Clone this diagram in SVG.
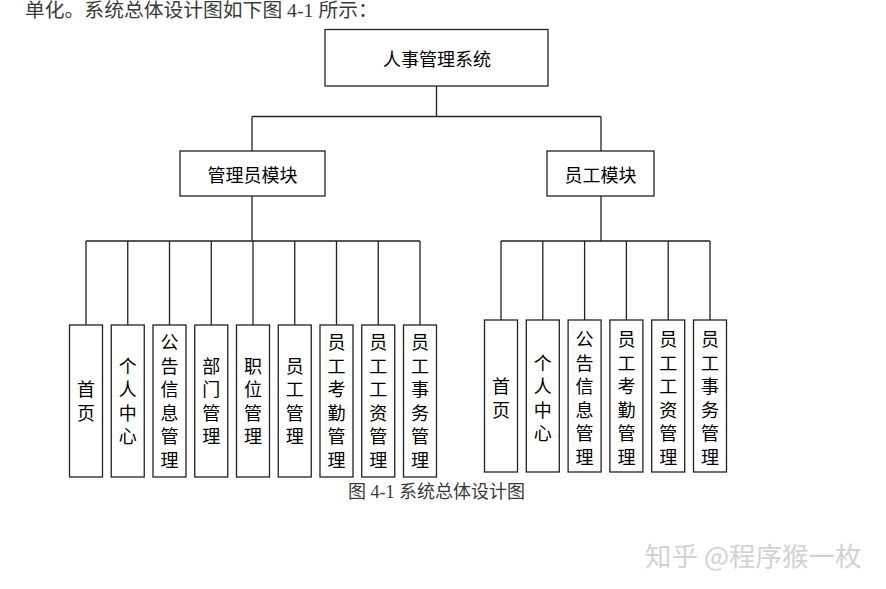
<svg xmlns="http://www.w3.org/2000/svg" width="886" height="589" viewBox="0 0 886 589">
<style>
.box{fill:#fff;stroke:#222;stroke-width:1.3}
.ln{stroke:#222;stroke-width:1.3;fill:none}
.t{font-family:"Noto Sans CJK SC","Noto Sans",sans-serif;font-size:18px;fill:#000;text-anchor:middle;dominant-baseline:central}
.v{font-family:"Noto Sans CJK SC","Noto Sans",sans-serif;font-size:18px;fill:#000;text-anchor:middle;dominant-baseline:central}
.doc{font-family:"Liberation Serif","Noto Sans CJK SC",serif;fill:#3a3a3a;dominant-baseline:central}
</style>
<rect width="886" height="589" fill="#fff"/>
<text class="doc" x="25" y="9.5" font-size="19.8">单化。系统总体设计图如下图 4-1 所示：</text>

<g id="connectors">
<path class="ln" d="M436.5 86V116.5M252 116.5H601M252 116.5V151M601 116.5V151"/>
<path class="ln" d="M252 196V241M86 241H420M86 241V325M127.75 241V325M169.5 241V325M211.25 241V325M253 241V325M294.75 241V325M336.5 241V325M378.25 241V325M420 241V325"/>
<path class="ln" d="M601 196V241M501 241H710M501 241V320M542.8 241V320M584.6 241V320M626.4 241V320M668.2 241V320M710 241V320"/>
</g>

<g id="root"><rect class="box" x="325" y="29.5" width="223" height="56.5"/><text class="t" x="437" y="58">人事管理系统</text></g>
<g id="admin"><rect class="box" x="180" y="151" width="145" height="45"/><text class="t" x="252.5" y="173.5">管理员模块</text></g>
<g id="staff"><rect class="box" x="547" y="151" width="107" height="45"/><text class="t" x="600.5" y="173.5">员工模块</text></g>

<g id="a1"><rect class="box" x="69.5" y="325" width="33" height="152"/><text class="v"><tspan x="86" y="388.25">首</tspan><tspan x="86" y="411.75">页</tspan></text></g>
<g id="a2"><rect class="box" x="111.25" y="325" width="33" height="152"/><text class="v"><tspan x="127.75" y="364.75">个</tspan><tspan x="127.75" y="388.25">人</tspan><tspan x="127.75" y="411.75">中</tspan><tspan x="127.75" y="435.25">心</tspan></text></g>
<g id="a3"><rect class="box" x="153" y="325" width="33" height="152"/><text class="v"><tspan x="169.5" y="341.25">公</tspan><tspan x="169.5" y="364.75">告</tspan><tspan x="169.5" y="388.25">信</tspan><tspan x="169.5" y="411.75">息</tspan><tspan x="169.5" y="435.25">管</tspan><tspan x="169.5" y="458.75">理</tspan></text></g>
<g id="a4"><rect class="box" x="194.75" y="325" width="33" height="152"/><text class="v"><tspan x="211.25" y="364.75">部</tspan><tspan x="211.25" y="388.25">门</tspan><tspan x="211.25" y="411.75">管</tspan><tspan x="211.25" y="435.25">理</tspan></text></g>
<g id="a5"><rect class="box" x="236.5" y="325" width="33" height="152"/><text class="v"><tspan x="253" y="364.75">职</tspan><tspan x="253" y="388.25">位</tspan><tspan x="253" y="411.75">管</tspan><tspan x="253" y="435.25">理</tspan></text></g>
<g id="a6"><rect class="box" x="278.25" y="325" width="33" height="152"/><text class="v"><tspan x="294.75" y="364.75">员</tspan><tspan x="294.75" y="388.25">工</tspan><tspan x="294.75" y="411.75">管</tspan><tspan x="294.75" y="435.25">理</tspan></text></g>
<g id="a7"><rect class="box" x="320" y="325" width="33" height="152"/><text class="v"><tspan x="336.5" y="341.25">员</tspan><tspan x="336.5" y="364.75">工</tspan><tspan x="336.5" y="388.25">考</tspan><tspan x="336.5" y="411.75">勤</tspan><tspan x="336.5" y="435.25">管</tspan><tspan x="336.5" y="458.75">理</tspan></text></g>
<g id="a8"><rect class="box" x="361.75" y="325" width="33" height="152"/><text class="v"><tspan x="378.25" y="341.25">员</tspan><tspan x="378.25" y="364.75">工</tspan><tspan x="378.25" y="388.25">工</tspan><tspan x="378.25" y="411.75">资</tspan><tspan x="378.25" y="435.25">管</tspan><tspan x="378.25" y="458.75">理</tspan></text></g>
<g id="a9"><rect class="box" x="403.5" y="325" width="33" height="152"/><text class="v"><tspan x="420" y="341.25">员</tspan><tspan x="420" y="364.75">工</tspan><tspan x="420" y="388.25">事</tspan><tspan x="420" y="411.75">务</tspan><tspan x="420" y="435.25">管</tspan><tspan x="420" y="458.75">理</tspan></text></g>

<g id="s1"><rect class="box" x="484.5" y="320" width="33" height="152"/><text class="v"><tspan x="501" y="385.25">首</tspan><tspan x="501" y="408.75">页</tspan></text></g>
<g id="s2"><rect class="box" x="526.3" y="320" width="33" height="152"/><text class="v"><tspan x="542.8" y="361.75">个</tspan><tspan x="542.8" y="385.25">人</tspan><tspan x="542.8" y="408.75">中</tspan><tspan x="542.8" y="432.25">心</tspan></text></g>
<g id="s3"><rect class="box" x="568.1" y="320" width="33" height="152"/><text class="v"><tspan x="584.6" y="338.25">公</tspan><tspan x="584.6" y="361.75">告</tspan><tspan x="584.6" y="385.25">信</tspan><tspan x="584.6" y="408.75">息</tspan><tspan x="584.6" y="432.25">管</tspan><tspan x="584.6" y="455.75">理</tspan></text></g>
<g id="s4"><rect class="box" x="609.9" y="320" width="33" height="152"/><text class="v"><tspan x="626.4" y="338.25">员</tspan><tspan x="626.4" y="361.75">工</tspan><tspan x="626.4" y="385.25">考</tspan><tspan x="626.4" y="408.75">勤</tspan><tspan x="626.4" y="432.25">管</tspan><tspan x="626.4" y="455.75">理</tspan></text></g>
<g id="s5"><rect class="box" x="651.7" y="320" width="33" height="152"/><text class="v"><tspan x="668.2" y="338.25">员</tspan><tspan x="668.2" y="361.75">工</tspan><tspan x="668.2" y="385.25">工</tspan><tspan x="668.2" y="408.75">资</tspan><tspan x="668.2" y="432.25">管</tspan><tspan x="668.2" y="455.75">理</tspan></text></g>
<g id="s6"><rect class="box" x="693.5" y="320" width="33" height="152"/><text class="v"><tspan x="710" y="338.25">员</tspan><tspan x="710" y="361.75">工</tspan><tspan x="710" y="385.25">事</tspan><tspan x="710" y="408.75">务</tspan><tspan x="710" y="432.25">管</tspan><tspan x="710" y="455.75">理</tspan></text></g>

<text class="doc" x="348" y="492" font-size="18">图 4-1 系统总体设计图</text>
<text x="645" y="554" font-family="Noto Sans CJK SC,Noto Sans,sans-serif" font-size="26.5" fill="#d2d2d2" dominant-baseline="central">知乎 @程序猴一枚</text>
</svg>
